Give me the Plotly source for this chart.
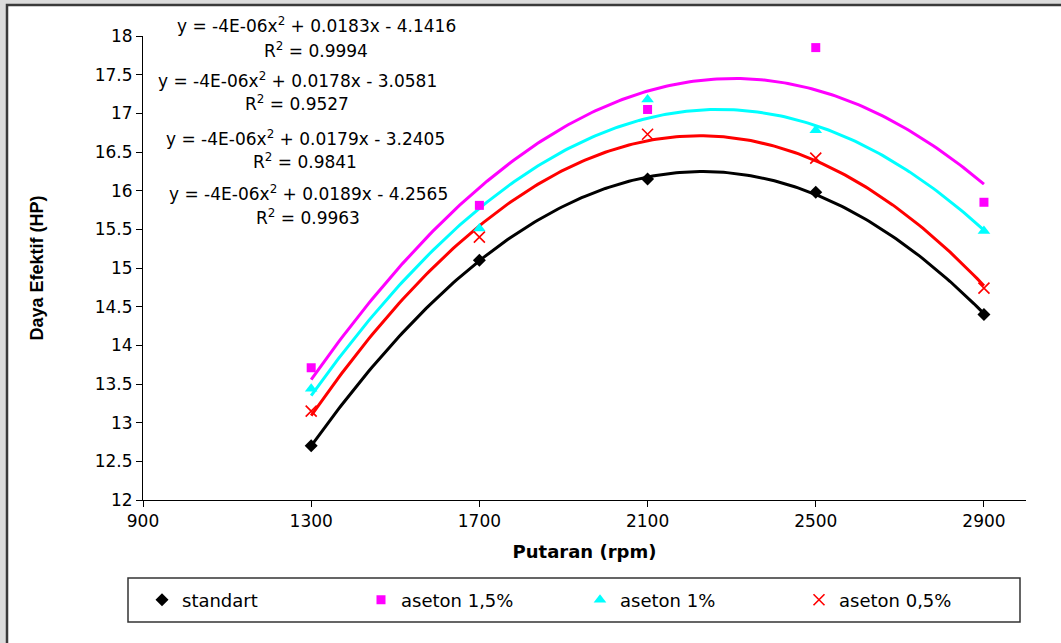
import numpy as np
import plotly.graph_objects as go

# ---- data ----
rpm = [1300, 1700, 2100, 2500, 2900]
standart = [12.70, 15.10, 16.15, 15.98, 14.40]
aseton_15 = [13.71, 15.81, 17.05, 17.85, 15.85]
aseton_1 = [13.44, 15.51, 17.18, 16.78, 15.48]
aseton_05 = [13.15, 15.40, 16.73, 16.42, 14.74]

series_names = ["standart", "aseton 1,5%", "aseton 1%", "aseton 0,5%"]
equations = [
    ("y = -4E-06x<sup>2</sup> + 0.0183x - 4.1416", "R<sup>2</sup> = 0.9994"),
    ("y = -4E-06x<sup>2</sup> + 0.0178x - 3.0581", "R<sup>2</sup> = 0.9527"),
    ("y = -4E-06x<sup>2</sup> + 0.0179x - 3.2405", "R<sup>2</sup> = 0.9841"),
    ("y = -4E-06x<sup>2</sup> + 0.0189x - 4.2565", "R<sup>2</sup> = 0.9963"),
]
x_ticks = [900, 1300, 1700, 2100, 2500, 2900]
x_title = "Putaran (rpm)"
y_title = "Daya Efektif (HP)"

# ---- figure geometry (pixels) ----
W, H = 1061, 643
L, R, T, B = 143, 1026, 36, 500
pw, ph = R - L, B - T

def px(x):
    return (x - L) / pw

def py(y):
    return (B - y) / ph

styles = [
    dict(color="black", symbol="diamond", size=10, line=dict(width=0)),
    dict(color="#FF00FF", symbol="square", size=9, line=dict(width=0)),
    dict(color="#00FFFF", symbol="triangle-up", size=11, line=dict(width=0)),
    dict(color="#FF0000", symbol="x-thin-open", size=11, line=dict(width=1.6, color="#FF0000")),
]
data = [standart, aseton_15, aseton_1, aseton_05]

fig = go.Figure()
xs = np.linspace(min(rpm), max(rpm), 200)
# trendlines (2nd order polynomial fit of each series)
for vals, st in zip(data, styles):
    c = np.polyfit(rpm, vals, 2)
    fig.add_trace(go.Scatter(x=xs, y=np.polyval(c, xs), mode="lines",
                             line=dict(color=st["color"], width=3),
                             showlegend=False, hoverinfo="skip"))
for name, vals, st in zip(series_names, data, styles):
    fig.add_trace(go.Scatter(x=rpm, y=vals, mode="markers", name=name,
                             marker=st))

font_main = "DejaVu Sans"
ann = []
eq_pos = [(316, 25, 50), (297, 80, 103), (305, 138, 161), (308, 193, 217)]
for (eq, r2), (cx, y1, y2) in zip(equations, eq_pos):
    ann.append(dict(x=px(cx), y=py(y1), xref="paper", yref="paper", text=eq,
                    showarrow=False, xanchor="center", yanchor="middle",
                    font=dict(family=font_main, size=17, color="black")))
    ann.append(dict(x=px(cx), y=py(y2), xref="paper", yref="paper", text=r2,
                    showarrow=False, xanchor="center", yanchor="middle",
                    font=dict(family=font_main, size=17, color="black")))

shapes = [
    dict(type="rect", xref="paper", yref="paper", x0=px(-10), x1=px(W + 10),
         y0=py(H + 10), y1=py(-10), fillcolor="#dcdcdc", line=dict(width=0), layer="below"),
    dict(type="rect", xref="paper", yref="paper", x0=px(7), x1=px(W + 20),
         y0=py(H + 20), y1=py(5), fillcolor="white",
         line=dict(color="#3a3a3a", width=2.5), layer="below"),
    dict(type="rect", xref="paper", yref="paper", x0=px(128), x1=px(1020),
         y0=py(622), y1=py(578), fillcolor="rgba(0,0,0,0)",
         line=dict(color="#333333", width=1.5), layer="below"),
]

fig.update_layout(
    width=W, height=H,
    margin=dict(l=L, r=W - R, t=T, b=H - B, autoexpand=False),
    paper_bgcolor="white", plot_bgcolor="rgba(0,0,0,0)",
    font=dict(family=font_main, size=17, color="black"),
    showlegend=True,
    legend=dict(orientation="h", x=px(142), y=py(600), xanchor="left", yanchor="middle",
                entrywidth=174, entrywidthmode="pixels",
                font=dict(family=font_main, size=18, color="black"),
                bgcolor="rgba(0,0,0,0)", borderwidth=0, itemclick=False),
    annotations=ann, shapes=shapes,
)
fig.update_xaxes(range=[900, 3000], tickvals=x_ticks, ticks="outside", ticklen=6,
                 tickcolor="black", showline=True, linecolor="black", linewidth=1,
                 showgrid=False, zeroline=False,
                 tickfont=dict(family=font_main, size=17),
                 title=dict(text="<b>" + x_title + "</b>", standoff=14,
                            font=dict(family=font_main, size=18)))
fig.update_yaxes(range=[12, 18], dtick=0.5, tick0=12, ticks="outside", ticklen=6,
                 tickcolor="black", showline=True, linecolor="black", linewidth=1,
                 showgrid=False, zeroline=False,
                 tickfont=dict(family=font_main, size=17),
                 title=dict(text="<b>" + y_title + "</b>", standoff=46,
                            font=dict(family="Liberation Sans", size=18)))

fig.write_html("out.html")
